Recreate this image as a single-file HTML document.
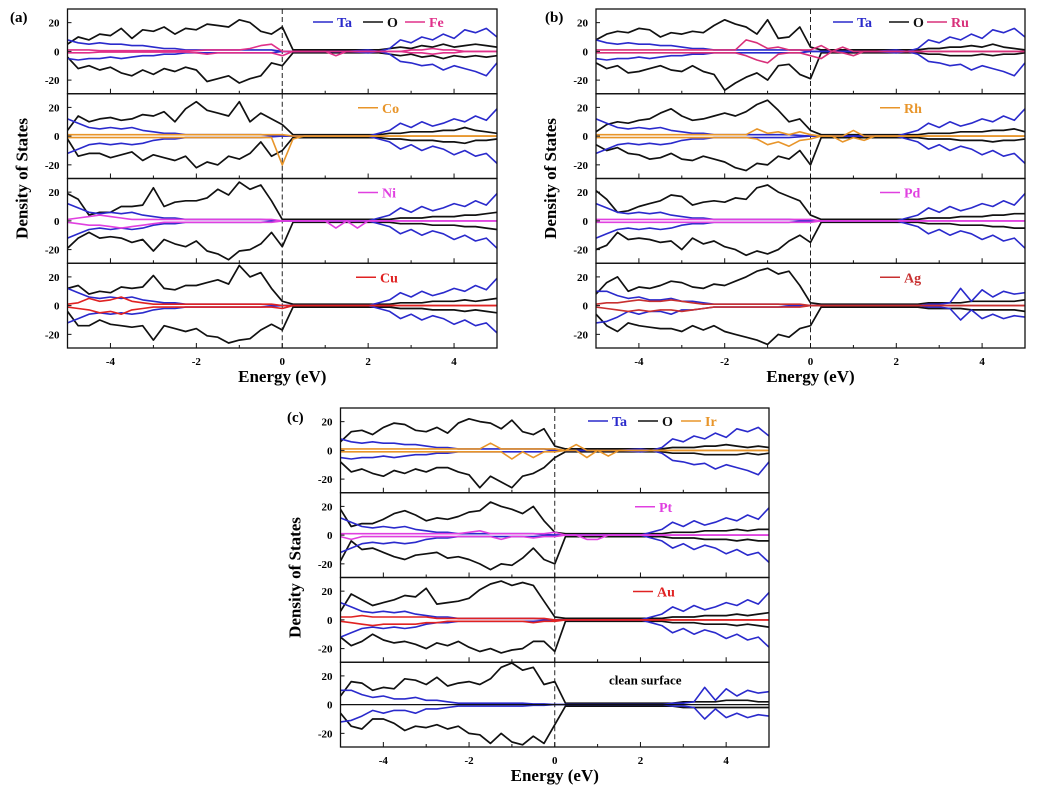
<!DOCTYPE html>
<html><head><meta charset="utf-8"><style>
html,body{margin:0;padding:0;background:#fff;}
svg{display:block;font-family:"Liberation Serif",serif;}
</style></head><body>
<svg id="chart" width="1043" height="799" viewBox="0 0 1043 799"></svg>
<script>
// ---- data (energy grid in eV and DOS values) ----
const energies=[-5,-4.75,-4.5,-4.25,-4,-3.75,-3.5,-3.25,-3,-2.75,-2.5,-2.25,-2,-1.75,-1.5,-1.25,-1,-0.75,-0.5,-0.25,0,0.25,0.5,0.75,1,1.25,1.5,1.75,2,2.25,2.5,2.75,3,3.25,3.5,3.75,4,4.25,4.5,4.75,5];
const xTicks=[-4,-2,0,2,4];
const yTicks=[-20,0,20];
// O up / down
const oUpFe=[5,10,8,12,11,16,9,15,14,17,12,16,15,19,18,17,22,20,14,12,17,1,1,1,1,1,1,1,1,1,2,3,2,4,3,5,3,4,5,4,3];
const oDnFe=[-4,-12,-10,-13,-11,-15,-17,-13,-16,-12,-14,-11,-13,-21,-19,-17,-22,-19,-17,-8,-10,-1,-1,-1,-1,-1,-1,-1,-1,-1,-2,-3,-2,-4,-3,-5,-3,-4,-3,-4,-3];
const oUpCo=[4,14,10,12,13,11,12,15,14,17,10,19,24,18,16,14,24,10,16,12,8,1,1,1,1,1,1,1,1,1,2,2,3,3,3,4,4,6,4,3,2];
const oDnCo=[-2,-14,-12,-12,-15,-13,-11,-17,-13,-15,-17,-14,-22,-18,-20,-14,-16,-12,-4,-14,-10,-1,-1,-1,-1,-1,-1,-1,-1,-1,-2,-2,-3,-3,-3,-4,-4,-5,-3,-3,-2];
const oUpNi=[19,15,4,6,6,10,10,11,23,10,13,14,14,16,22,18,27,22,25,14,1,1,1,1,1,1,1,1,1,1,1,2,2,2,3,3,3,4,4,5,6];
const oDnNi=[-19,-12,-8,-12,-11,-12,-15,-13,-21,-13,-16,-18,-14,-21,-23,-27,-21,-20,-16,-8,-18,-1,-1,-1,-1,-1,-1,-1,-1,-1,-1,-2,-2,-2,-3,-3,-3,-4,-4,-5,-6];
const oUpCu=[12,14,8,10,9,13,12,13,21,12,11,14,14,16,18,15,28,20,23,12,3,1,1,1,1,1,1,1,1,1,1,2,2,2,3,3,3,4,3,4,5];
const oDnCu=[-4,-14,-14,-10,-13,-14,-15,-14,-24,-14,-16,-18,-16,-21,-22,-26,-24,-23,-17,-13,-17,-1,-1,-1,-1,-1,-1,-1,-1,-1,-1,-2,-2,-2,-3,-3,-3,-4,-3,-4,-5];
const oUpRu=[8,12,14,13,16,15,10,13,12,14,13,18,22,19,17,12,22,9,10,17,3,1,1,1,1,1,1,1,1,1,1,2,2,3,3,4,3,5,3,2,1];
const oDnRu=[-8,-12,-10,-15,-14,-12,-10,-13,-14,-10,-14,-16,-27,-22,-18,-15,-20,-10,-9,-16,-19,-1,-1,-1,-1,-1,-1,-1,-1,-1,-1,-2,-2,-3,-3,-3,-2,-3,-2,-2,-1];
const oUpRh=[3,8,10,9,11,12,16,19,14,11,12,14,16,14,17,22,25,18,10,12,4,1,1,1,1,1,1,1,1,1,1,2,2,2,3,3,3,4,4,5,3];
const oDnRh=[-6,-10,-8,-12,-13,-16,-15,-12,-16,-17,-14,-16,-18,-22,-24,-19,-20,-14,-16,-10,-20,-1,-1,-1,-1,-1,-1,-1,-1,-1,-1,-2,-2,-2,-3,-3,-3,-4,-3,-3,-2];
const oUpPd=[21,15,6,7,10,12,14,18,17,11,13,14,13,16,15,23,25,20,17,14,4,1,1,1,1,1,1,1,1,1,1,2,2,2,3,3,3,4,4,5,5];
const oDnPd=[-20,-17,-8,-13,-12,-13,-15,-14,-20,-12,-16,-14,-18,-20,-24,-21,-23,-20,-14,-10,-15,-1,-1,-1,-1,-1,-1,-1,-1,-1,-1,-2,-2,-2,-3,-3,-3,-4,-4,-5,-5];
const oUpAg=[8,16,20,10,13,12,14,17,16,13,12,15,14,17,20,24,26,22,24,14,2,1,1,1,1,1,1,1,1,1,1,2,2,2,2,3,3,3,3,3,4];
const oDnAg=[-6,-14,-18,-12,-14,-15,-16,-16,-18,-14,-17,-14,-18,-20,-22,-24,-27,-20,-22,-16,-14,-1,-1,-1,-1,-1,-1,-1,-1,-1,-1,-2,-2,-2,-2,-3,-3,-3,-3,-3,-4];
const oUpIr=[6,13,14,11,16,19,18,14,13,16,12,19,22,20,19,15,21,13,11,15,3,1,1,1,1,1,1,1,1,1,1,2,2,2,3,3,4,3,2,3,2];
const oDnIr=[-8,-15,-13,-16,-18,-14,-16,-13,-15,-12,-12,-15,-17,-26,-18,-22,-26,-18,-16,-12,-5,-1,-1,-1,-1,-1,-1,-1,-1,-1,-1,-2,-2,-2,-3,-3,-3,-3,-2,-3,-2];
const oUpPt=[18,6,8,8,11,15,17,14,10,12,11,13,16,17,23,20,18,15,20,10,2,1,1,1,1,1,1,1,1,1,1,2,2,2,3,3,3,4,3,4,4];
const oDnPt=[-18,-4,-10,-9,-12,-15,-17,-14,-13,-12,-16,-15,-17,-20,-24,-20,-21,-16,-9,-17,-20,-1,-1,-1,-1,-1,-1,-1,-1,-1,-1,-2,-2,-2,-3,-3,-3,-4,-3,-4,-4];
const oUpAu=[6,18,14,10,12,14,17,16,22,11,12,13,15,21,25,27,24,26,24,13,2,1,1,1,1,1,1,1,1,1,1,2,2,2,3,3,3,4,3,4,5];
const oDnAu=[-12,-18,-15,-10,-14,-16,-15,-17,-20,-16,-18,-15,-19,-22,-20,-23,-21,-20,-15,-15,-22,-1,-1,-1,-1,-1,-1,-1,-1,-1,-1,-2,-2,-2,-3,-3,-3,-4,-3,-4,-5];
const oUpClean=[6,16,15,10,12,11,18,17,14,19,13,15,16,14,18,26,29,24,26,14,16,1,1,1,1,1,1,1,1,1,1,1,2,2,2,2,3,3,3,2,2];
const oDnClean=[-6,-15,-17,-10,-10,-13,-18,-15,-16,-14,-17,-15,-20,-21,-27,-20,-26,-28,-22,-27,-14,-1,-1,-1,-1,-1,-1,-1,-1,-1,-1,-1,-2,-2,-2,-2,-2,-2,-2,-2,-2];
// Ta up / down (three similar families)
const taUpA=[8,6,5,6,5,5,4,4,3,2,2,1,1,1,1,1,1,1,1,1,0,0,0,0,0,0,0,0.5,1,0,2,8,6,10,8,12,9,15,13,16,10];
const taDnA=[-5,-6,-5,-5,-4,-5,-4,-3,-3,-2,-2,-1,-1,-1,-1,-1,-1,-1,-1,-1,0,0,0,0,0,0,0,-0.5,-1,0,-2,-7,-8,-10,-9,-13,-10,-12,-14,-17,-8];
const taUpB=[12,9,6,5,6,5,6,4,3,2,2,1,1,1,1,1,1,1,1,0.5,0,0,0,0,0,0,0,0,0,2,4,9,6,10,7,9,12,10,14,11,19];
const taDnB=[-12,-9,-6,-5,-6,-5,-6,-5,-3,-2,-2,-1,-1,-1,-1,-1,-1,-1,-1,-0.5,0,0,0,0,0,0,0,0,0,-2,-4,-9,-6,-10,-7,-9,-13,-10,-14,-12,-19];
const taUpC=[10,10,7,5,6,4,4,5,3,3,2,1,1,1,1,1,1,1,0.5,0.5,0,0,0,0,0,0,0,0,0,0,0,1,1,2,12,3,11,6,10,8,9];
const taDnC=[-12,-11,-8,-4,-6,-4,-4,-6,-3,-3,-2,-1,-1,-1,-1,-1,-1,-1,-0.5,-0.5,0,0,0,0,0,0,0,0,0,0,0,-1,-1,-2,-10,-3,-9,-6,-9,-7,-8];
// metal up / down
const mUpFe=[1,1,1,0.5,0.5,0.5,0.5,0.5,0.5,0.5,0.5,0.5,0.5,1,1,1,1,2,4,5,0,0,0,0,0,0,0,0,0,0,0,0,1,1,2,1,1,0,0,0,0];
const mDnFe=[-1,-1,-1,-0.5,-0.5,-0.5,-0.5,-0.5,-0.5,-0.5,-0.5,-0.5,-1,-2,-1,-1,-1,-1,-1,-1,-3,0,0,0,0,-3,0,0,0,0,0,0,-1,-1,-2,-1,-1,0,0,0,0];
const mUpCo=[1,1,1,1,1,1,1,1,1,1,1,1,1,1,1,1,1,1,1,1,1,0,0,0,0,0,0,0,0,0,0,0,0,0,0,0,0,0,0,0,0];
const mDnCo=[-1,-1,-1,-1,-1,-1,-1,-1,-1,-1,-1,-1,-1,-1,-1,-1,-1,-1,-1,-1,-20,-2,0,0,0,0,0,0,0,0,0,0,0,0,0,0,0,0,0,0,0];
const mUpNi=[1,2,3,4,3,2,1,1,1,1,1,1,1,1,1,1,1,1,1,1,0,0,0,0,0,0,0,0,0,0,0,0,0,0,0,0,0,0,0,0,0];
const mDnNi=[-1,-2,-3,-3,-4,-5,-4,-3,-2,-1,-1,-1,-1,-1,-1,-1,-1,-1,-1,-1,0,0,0,0,0,-5,0,-5,0,0,0,0,0,0,0,0,0,0,0,0,0];
const mUpCu=[1,2,5,3,4,6,3,2,1,1,1,1,1,1,1,1,1,1,1,1,0,0,0,0,0,0,0,0,0,0,0,0,0,0,0,0,0,0,0,0,0];
const mDnCu=[-1,-2,-3,-5,-4,-6,-3,-2,-1,-1,-1,-1,-1,-1,-1,-1,-1,-1,-1,-1,-2,0,0,0,0,0,0,0,0,0,0,0,0,0,0,0,0,0,0,0,0];
const mUpRu=[1,1,1,1,1,1,1,1,1,1,1,1,1,1,8,6,2,3,1,1,1,4,0,3,0,0,0,0,0,0,0,0,0,0,0,0,0,0,0,0,0];
const mDnRu=[-1,-1,-1,-1,-1,-1,-1,-1,-1,-1,-1,-1,-1,-1,-3,-6,-8,-2,-1,-1,-3,-5,0,-1,-3,0,0,0,0,0,0,0,0,0,0,0,0,0,0,0,0];
const mUpRh=[1,1,1,1,1,1,1,1,1,1,1,1,1,1,1,5,2,3,1,3,1,0,0,0,4,0,0,0,0,0,0,0,0,0,0,0,0,0,0,0,0];
const mDnRh=[-1,-1,-1,-1,-1,-1,-1,-1,-1,-1,-1,-1,-1,-1,-1,-2,-6,-4,-7,-3,-2,0,0,-4,-1,-3,0,0,0,0,0,0,0,0,0,0,0,0,0,0,0];
const mUpPd=[1,1,1,1,1,1,1,1,1,1,1,1,1,1,1,1,1,1,1,1,1,0,0,0,0,0,0,0,0,0,0,0,0,0,0,0,0,0,0,0,0];
const mDnPd=[-1,-1,-1,-1,-1,-1,-1,-1,-1,-1,-1,-1,-1,-1,-1,-1,-1,-1,-1,-1,-1,0,0,0,0,0,0,0,0,0,0,0,0,0,0,0,0,0,0,0,0];
const mUpAg=[1,2,2,3,4,3,3,4,3,2,1,1,1,1,1,1,1,1,1,1,0,0,0,0,0,0,0,0,0,0,0,0,0,0,0,0,0,0,0,0,0];
const mDnAg=[-1,-2,-3,-4,-3,-4,-3,-3,-4,-3,-2,-1,-1,-1,-1,-1,-1,-1,-1,-1,0,0,0,0,0,0,0,0,0,0,0,0,0,0,0,0,0,0,0,0,0];
const mUpIr=[1,1,1,1,1,1,1,1,1,1,1,1,1,1,5,1,1,1,1,1,1,0,4,0,0,0,0,0,0,0,0,0,0,0,0,0,0,0,0,0,0];
const mDnIr=[-1,-1,-1,-1,-1,-1,-1,-1,-1,-1,-1,-1,-1,-1,-1,-1,-6,-1,-5,-1,-1,0,0,-5,0,-4,0,0,0,0,0,0,0,0,0,0,0,0,0,0,0];
const mUpPt=[1,1,1,1,1,1,1,1,1,1,1,1,2,3,1,1,1,1,1,1,2,0,0,0,0,0,0,0,0,0,0,0,0,0,0,0,0,0,0,0,0];
const mDnPt=[-1,-3,-1,-1,-1,-1,-1,-1,-1,-1,-1,-1,-1,-1,-1,-3,-1,-1,-2,-1,-1,0,0,-3,-3,0,0,0,0,0,0,0,0,0,0,0,0,0,0,0,0];
const mUpAu=[2,2,3,2,2,2,2,2,2,1,1,1,1,1,1,1,1,1,1,1,0,0,0,0,0,0,0,0,0,0,0,0,0,0,0,0,0,0,0,0,0];
const mDnAu=[-1,-2,-3,-4,-3,-3,-3,-3,-2,-2,-1,-1,-1,-1,-1,-1,-1,-1,-2,-1,-1,0,0,0,0,0,0,0,0,0,0,0,0,0,0,0,0,0,0,0,0];

// ---- layout ----
const svg=document.getElementById('chart');
const NS='http://www.w3.org/2000/svg';
function mk(tag,attrs,parent){const e=document.createElementNS(NS,tag);for(const k in attrs)e.setAttribute(k,attrs[k]);(parent||svg).appendChild(e);return e;}
const C={ta:'#2a2acc',o:'#111',fe:'#e0308a',co:'#e8952a',ni:'#e040e0',cu:'#e02222',ru:'#d8307a',rh:'#e8952a',pd:'#e040e0',ag:'#c83030',ir:'#e8952a',pt:'#e040e0',au:'#e02222'};

const panels=[
 {id:'a',label:'(a)',lx:10,ly:22,x0:67.5,x1:497,y0:9,y1:348,legTop:{x:313,names:['Ta','O','Fe'],cols:[C.ta,C.o,C.fe],gap:[0,50,92]},
  subs:[{o:[oUpFe,oDnFe],t:[taUpA,taDnA],m:[mUpFe,mDnFe],c:C.fe,n:'fe'},
        {o:[oUpCo,oDnCo],t:[taUpB,taDnB],m:[mUpCo,mDnCo],c:C.co,n:'co',leg:'Co',lx:358},
        {o:[oUpNi,oDnNi],t:[taUpB,taDnB],m:[mUpNi,mDnNi],c:C.ni,n:'ni',leg:'Ni',lx:358},
        {o:[oUpCu,oDnCu],t:[taUpB,taDnB],m:[mUpCu,mDnCu],c:C.cu,n:'cu',leg:'Cu',lx:356}]},
 {id:'b',label:'(b)',lx:545,ly:22,x0:596,x1:1025,y0:9,y1:348,legTop:{x:833,names:['Ta','O','Ru'],cols:[C.ta,C.o,C.ru],gap:[0,56,94]},
  subs:[{o:[oUpRu,oDnRu],t:[taUpA,taDnA],m:[mUpRu,mDnRu],c:C.ru,n:'ru'},
        {o:[oUpRh,oDnRh],t:[taUpB,taDnB],m:[mUpRh,mDnRh],c:C.rh,n:'rh',leg:'Rh',lx:880},
        {o:[oUpPd,oDnPd],t:[taUpB,taDnB],m:[mUpPd,mDnPd],c:C.pd,n:'pd',leg:'Pd',lx:880},
        {o:[oUpAg,oDnAg],t:[taUpC,taDnC],m:[mUpAg,mDnAg],c:C.ag,n:'ag',leg:'Ag',lx:880}]},
 {id:'c',label:'(c)',lx:287,ly:422,x0:340.5,x1:769,y0:408,y1:747,legTop:{x:588,names:['Ta','O','Ir'],cols:[C.ta,C.o,C.ir],gap:[0,50,93]},
  subs:[{o:[oUpIr,oDnIr],t:[taUpA,taDnA],m:[mUpIr,mDnIr],c:C.ir,n:'ir'},
        {o:[oUpPt,oDnPt],t:[taUpB,taDnB],m:[mUpPt,mDnPt],c:C.pt,n:'pt',leg:'Pt',lx:635},
        {o:[oUpAu,oDnAu],t:[taUpB,taDnB],m:[mUpAu,mDnAu],c:C.au,n:'au',leg:'Au',lx:633},
        {o:[oUpClean,oDnClean],t:[taUpC,taDnC],m:null,n:'clean',text:'clean surface',lx:609}]}
];

panels.forEach(P=>{
  const g=mk('g',{});
  
  
  const xs=v=>P.x0+(v+5)/10*(P.x1-P.x0);
  const sh=(P.y1-P.y0)/4;
  const lbl=mk('text',{x:P.lx,y:P.ly,'font-size':15,'font-weight':'bold'},g);lbl.textContent=P.label;
  
  
  P.subs.forEach((S,i)=>{
    const top=P.y0+i*sh, mid=top+sh/2;
    const ys=v=>mid-v/29.5*(sh/2);
    const sg=mk('g',{},g);
    
    
    const cid='clip-'+P.id+i;
    const cp=mk('clipPath',{id:cid},sg);mk('rect',{x:P.x0,y:top,width:P.x1-P.x0,height:sh},cp);
    const dg=mk('g',{'clip-path':'url(#'+cid+')'},sg);
    const fl=mk('line',{x1:xs(0),x2:xs(0),y1:top,y2:top+sh,stroke:'#222','stroke-width':1,'stroke-dasharray':'5,3'},dg);
    
    
    const line=(arr,col,name,w)=>{
      const pts=arr.map((v,k)=>xs(energies[k]).toFixed(1)+','+ys(v).toFixed(1)).join(' ');
      const pl=mk('polyline',{points:pts,fill:'none',stroke:col,'stroke-width':w||1.6,'stroke-linejoin':'round'},dg);
      
      
    };
    line(S.o[0],C.o,'o-spin-up-line',1.7);line(S.o[1],C.o,'o-spin-down-line',1.7);
    line(S.t[0],C.ta,'ta-spin-up-line');line(S.t[1],C.ta,'ta-spin-down-line');
    if(S.m){line(S.m[0],S.c,S.n+'-spin-up-line');line(S.m[1],S.c,S.n+'-spin-down-line');}
    else{const zl=mk('line',{x1:P.x0,x2:P.x1,y1:ys(0),y2:ys(0),stroke:'#111','stroke-width':1.2},dg);
      }
    const fr=mk('rect',{x:P.x0,y:top,width:P.x1-P.x0,height:sh,fill:'none',stroke:'#111','stroke-width':1.3},sg);
    
    
    for(let e=-4;e<=4;e++){const mj=xTicks.includes(e);
      mk('line',{x1:xs(e),x2:xs(e),y1:top+sh,y2:top+sh-(mj?5:3),stroke:'#111','stroke-width':1},sg);}
    yTicks.forEach(v=>{
      mk('line',{x1:P.x0,x2:P.x0+4,y1:ys(v),y2:ys(v),stroke:'#111','stroke-width':1},sg);
      const t=mk('text',{x:P.x0-8,y:ys(v)+4,'font-size':11,'font-weight':'bold','text-anchor':'end'},sg);
      t.textContent=v;
      
      
    });
    if(i===0){const L=P.legTop;
      L.names.forEach((nm,k)=>{const lx=L.x+L.gap[k];
        const e=mk('g',{},sg);
        
        
        mk('line',{x1:lx,x2:lx+20,y1:top+13,y2:top+13,stroke:L.cols[k],'stroke-width':1.6},e);
        const t=mk('text',{x:lx+24,y:top+18,'font-size':14,'font-weight':'bold',fill:L.cols[k]},e);t.textContent=nm;});
    } else if(S.leg){
      const e=mk('g',{},sg);
      
      
      mk('line',{x1:S.lx,x2:S.lx+20,y1:top+14,y2:top+14,stroke:S.c,'stroke-width':1.6},e);
      const t=mk('text',{x:S.lx+24,y:top+19,'font-size':14,'font-weight':'bold',fill:S.c},e);t.textContent=S.leg;
    } else if(S.text){
      const t=mk('text',{x:S.lx,y:top+22,'font-size':13,'font-weight':'bold'},sg);t.textContent=S.text;
      
      
    }
  });
  xTicks.forEach(e=>{const t=mk('text',{x:xs(e),y:P.y1+17,'font-size':11,'font-weight':'bold','text-anchor':'middle'},g);t.textContent=e;
    });
  const xt=mk('text',{x:(P.x0+P.x1)/2,y:P.y1+34,'font-size':17,'font-weight':'bold','text-anchor':'middle'},g);xt.textContent='Energy (eV)';
  
  const cy=(P.y0+P.y1)/2, cx=P.x0-40;
  const yt=mk('text',{x:cx,y:cy,'font-size':17,'font-weight':'bold','text-anchor':'middle',transform:'rotate(-90 '+cx+' '+cy+')'},g);yt.textContent='Density of States';
  
});
</script>
</body></html>
